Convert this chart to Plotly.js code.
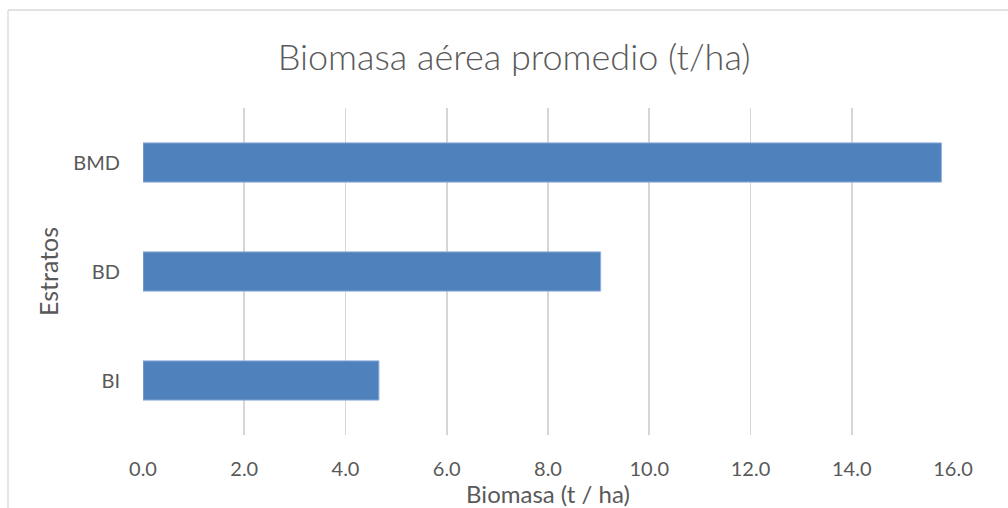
<!DOCTYPE html>
<html>
<head>
<meta charset="utf-8">
<script src="https://cdn.plot.ly/plotly-3.0.1.min.js"></script>
<style>html,body{margin:0;padding:0;background:#fff;}#chart{width:1008px;height:508px;}</style>
</head>
<body>
<div id="chart"></div>
<script>
const categories = ["BI", "BD", "BMD"];
const biomasa = [4.66, 9.04, 15.77];
const tickValues = [0, 2, 4, 6, 8, 10, 12, 14, 16];
const tickLabels = ["0.0", "2.0", "4.0", "6.0", "8.0", "10.0", "12.0", "14.0", "16.0"];

const FONT = "Lato, 'Open Sans', sans-serif";
const TXT = "#595959";

const trace = {
  type: "bar",
  orientation: "h",
  x: biomasa,
  y: categories,
  marker: { color: "#4F81BD", line: { color: "#8EADDA", width: 1 } },
  hoverinfo: "x+y"
};

const L = 143, R = 55, T = 108, B = 73, W = 1008, H = 508;
const pw = W - L - R, ph = H - T - B;

const layout = {
  width: W, height: H,
  margin: { l: L, r: R, t: T, b: B, pad: 0 },
  paper_bgcolor: "#fff", plot_bgcolor: "#fff",
  font: { family: FONT, color: TXT, size: 20 },
  bargap: 0.64,
  showlegend: false,
  title: {
    text: "Biomasa aérea promedio (t/ha)",
    font: { family: FONT, size: 36, color: TXT, weight: 300 },
    x: 0.51, xanchor: "center", xref: "container",
    y: 1 - 57 / H, yanchor: "middle", yref: "container"
  },
  xaxis: {
    range: [0, 16],
    tickvals: tickValues,
    ticktext: tickLabels,
    showgrid: true, gridcolor: "#D6D6D6", gridwidth: 1.7,
    zeroline: false, showline: false, ticks: "",
    ticklabelstandoff: 20,
    tickfont: { family: FONT, size: 20, color: TXT },
    title: { text: "Biomasa (t / ha)", font: { family: FONT, size: 24, color: TXT }, standoff: 2 },
    fixedrange: true
  },
  yaxis: {
    showgrid: false, zeroline: false, showline: false, ticks: "",
    ticklabelstandoff: 22,
    tickfont: { family: FONT, size: 20, color: TXT },
    title: { text: "Estratos", font: { family: FONT, size: 25, color: TXT }, standoff: 7 },
    fixedrange: true
  },
  shapes: [
    { type: "line", xref: "paper", yref: "paper",
      x0: (8 - L) / pw, x1: (W + 10 - L) / pw, y0: (H - B - 10) / ph, y1: (H - B - 10) / ph,
      line: { color: "#D9D9D9", width: 1.3 } },
    { type: "line", xref: "paper", yref: "paper",
      x0: (8 - L) / pw, x1: (8 - L) / pw, y0: (H - B - 10) / ph, y1: -B / ph - 0.05,
      line: { color: "#D9D9D9", width: 1.3 } }
  ]
};

Plotly.newPlot("chart", [trace], layout, { displayModeBar: false, staticPlot: true });
</script>
</body>
</html>
